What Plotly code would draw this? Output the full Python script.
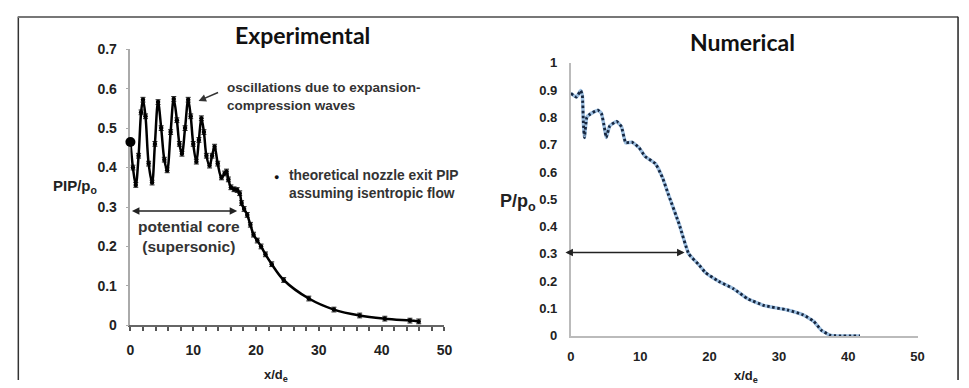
import plotly.graph_objects as go

W, H = 969, 388

# ---------------- data ----------------
exp_x = [0, 0.4, 0.85, 1.3, 1.7, 2.0, 2.4, 2.9, 3.45, 3.9, 4.4, 4.9, 5.4, 5.85, 6.4, 6.9,
         7.4, 7.8, 8.2, 8.7, 9.2, 9.6, 10.0, 10.5, 10.9, 11.3, 11.7, 12.1, 12.6, 13.0, 13.4,
         13.9, 14.5, 15.0, 15.3, 15.6, 16.0, 16.5, 17.0, 17.4, 17.7, 18.1, 18.6, 19.1, 19.6,
         20.2, 20.8, 21.5, 22.5, 24.4, 28.4, 32.4, 36.5, 40.5, 44.5, 45.9]
exp_y = [0.465, 0.40, 0.356, 0.43, 0.54, 0.572, 0.53, 0.41, 0.362, 0.46, 0.566, 0.50, 0.42,
         0.393, 0.49, 0.574, 0.52, 0.46, 0.435, 0.50, 0.572, 0.53, 0.46, 0.415, 0.47, 0.525,
         0.49, 0.43, 0.405, 0.43, 0.453, 0.41, 0.375, 0.385, 0.39, 0.37, 0.35, 0.345, 0.343,
         0.335, 0.31, 0.295, 0.28, 0.255, 0.23, 0.215, 0.2, 0.18, 0.155, 0.115, 0.068, 0.04,
         0.025, 0.017, 0.012, 0.01]
theory_x = [0]
theory_y = [0.465]

num_x = [0, 0.8, 1.4, 1.65, 1.8, 1.95, 2.3, 2.8, 3.9, 4.4, 4.85, 5.1, 5.6, 6.6, 7.3, 7.9,
         8.8, 9.8, 10.7, 12.2, 13.2, 14.1, 15.6, 17.0, 18.4, 19.4, 21.3, 23.5, 25.5, 27.9,
         31.2, 33.5, 35.0, 36.2, 37.5, 41.7]
num_y = [0.888, 0.874, 0.898, 0.88, 0.78, 0.726, 0.80, 0.812, 0.826, 0.814, 0.76, 0.726,
         0.768, 0.785, 0.765, 0.707, 0.709, 0.69, 0.657, 0.63, 0.58, 0.515, 0.41, 0.30,
         0.262, 0.232, 0.20, 0.172, 0.136, 0.111, 0.095, 0.077, 0.054, 0.019, 0.002, 0.0]

exp_xticks = [0, 10, 20, 30, 40, 50]
exp_xlabels = ["0", "10", "20", "30", "40", "50"]
exp_yticks = [0, 0.1, 0.2, 0.3, 0.4, 0.5, 0.6, 0.7]
exp_ylabels = ["0", "0.1", "0.2", "0.3", "0.4", "0.5", "0.6", "0.7"]
num_xticks = [0, 10, 20, 30, 40, 50]
num_xlabels = ["0", "10", "20", "30", "40", "50"]
num_yticks = [0, 0.1, 0.2, 0.3, 0.4, 0.5, 0.6, 0.7, 0.8, 0.9, 1]
num_ylabels = ["0", "0.1", "0.2", "0.3", "0.4", "0.5", "0.6", "0.7", "0.8", "0.9", "1"]

FONT = "Liberation Sans"
TFONT = "Lato"


def px(x):
    return x / W


def py(y):
    return 1 - y / H


def bold(labels):
    return ["<b>%s</b>" % t for t in labels]


fig = go.Figure()

# Experimental curve
fig.add_trace(go.Scatter(
    x=exp_x, y=exp_y, mode="lines+markers",
    line=dict(color="black", width=2.5, shape="spline", smoothing=1.0),
    marker=dict(color="black", size=4.5),
    error_y=dict(type="constant", value=0.006, width=2.5, thickness=1, color="#222"),
    xaxis="x", yaxis="y", showlegend=False, hoverinfo="skip", cliponaxis=False))
fig.add_trace(go.Scatter(
    x=theory_x, y=theory_y, mode="markers",
    marker=dict(color="black", size=10),
    xaxis="x", yaxis="y", showlegend=False, hoverinfo="skip", cliponaxis=False))

# Numerical curve: light blue line with dark dots on top
fig.add_trace(go.Scatter(
    x=num_x, y=num_y, mode="lines",
    line=dict(color="#9dbfe0", width=3.5, shape="spline", smoothing=0.4),
    xaxis="x2", yaxis="y2", showlegend=False, hoverinfo="skip"))
fig.add_trace(go.Scatter(
    x=num_x, y=num_y, mode="lines",
    line=dict(color="#16263f", width=2.8, shape="spline", smoothing=0.4, dash="2.5px,2.5px"),
    xaxis="x2", yaxis="y2", showlegend=False, hoverinfo="skip"))

tickfont_l = dict(family=FONT, size=14, color="#222")
tickfont_r = dict(family=FONT, size=13, color="#222")

fig.update_layout(
    width=W, height=H,
    margin=dict(l=0, r=0, t=0, b=0),
    paper_bgcolor="white", plot_bgcolor="white",
    xaxis=dict(domain=[px(128), px(446)], range=[0, 50], tickvals=exp_xticks,
               ticktext=bold(exp_xlabels),
               showgrid=False, zeroline=False, showline=True, linecolor="#666", linewidth=1.5,
               ticks="outside", ticklen=4, tickcolor="#555", tickwidth=1.5,
               minor=dict(dtick=2, ticks="outside", ticklen=4, tickcolor="#555", tickwidth=1.5),
               tickfont=tickfont_l, ticklabelstandoff=7, anchor="y", fixedrange=True,
               layer="below traces"),
    yaxis=dict(domain=[py(331), py(43)], range=[0, 0.7], tickvals=exp_yticks,
               ticktext=bold(exp_ylabels),
               showgrid=False, zeroline=False, showline=True, linecolor="#aaa", linewidth=1.5,
               ticks="outside", ticklen=3, tickcolor="#aaa",
               tickfont=tickfont_l, ticklabelstandoff=6, anchor="x", fixedrange=True,
               layer="below traces"),
    xaxis2=dict(domain=[px(574), px(925)], range=[0, 50], tickvals=num_xticks,
                ticktext=bold(num_xlabels),
                showgrid=False, zeroline=False, showline=True, linecolor="#bbb", linewidth=2,
                ticks="", tickfont=tickfont_r, ticklabelstandoff=8, anchor="y2", fixedrange=True,
                layer="below traces"),
    yaxis2=dict(domain=[py(342), py(57)], range=[0, 1], tickvals=num_yticks,
                ticktext=bold(num_ylabels),
                showgrid=False, zeroline=False, showline=True, linecolor="#bbb", linewidth=2,
                ticks="", tickfont=tickfont_r, ticklabelstandoff=9, anchor="x2", fixedrange=True,
                layer="below traces"),
)


def note(text, x, y, size, family=FONT, color="#222", xanchor="center", align="center"):
    return dict(text=text, x=px(x), y=py(y), xref="paper", yref="paper",
                xanchor=xanchor, yanchor="middle", align=align, showarrow=False,
                font=dict(family=family, size=size, color=color))


ann = []
# titles
ann.append(note("<b>Experimental</b>", 302, 28, 23, TFONT, "#111"))
ann.append(note("<b>Numerical</b>", 748, 35, 23, TFONT, "#111"))
# axis titles
ann.append(note("<b>PIP/p<sub>o</sub></b>", 72, 186, 15))
ann.append(note("<b>P/p<sub>o</sub></b>", 520, 203, 18))
ann.append(note("<b>x/d<sub>e</sub></b>", 275, 383, 13))
ann.append(note("<b>x/d<sub>e</sub></b>", 751, 384, 13))
# text notes
ann.append(note("<b>oscillations due to expansion-<br>compression waves</b>", 224, 92, 13.5,
                color="#333", xanchor="left", align="left"))
ann.append(note("<b>theoretical nozzle exit PIP<br>assuming isentropic flow</b>", 287, 184, 13.8,
                color="#333", xanchor="left", align="left"))
ann.append(note("●", 276, 176, 9, color="#111"))
ann.append(note("<b>potential core<br>(supersonic)</b>", 187, 238, 15.5, color="#333"))
# arrows
ann.append(dict(x=10.85, y=0.569, xref="x", yref="y", ax=21, ay=-9, text="",
                showarrow=True, arrowhead=2, arrowsize=1, arrowwidth=1.5, arrowcolor="#333"))
ann.append(dict(x=17, y=0.29, ax=0, ay=0.29, xref="x", yref="y", axref="x", ayref="y",
                text="", showarrow=True, arrowhead=2, startarrowhead=2, arrowside="end+start",
                arrowsize=1, arrowwidth=1.5, arrowcolor="#222"))
ann.append(dict(x=16.4, y=0.305, ax=-1.0, ay=0.305, xref="x2", yref="y2", axref="x2", ayref="y2",
                text="", showarrow=True, arrowhead=2, startarrowhead=2, arrowside="end+start",
                arrowsize=1, arrowwidth=1.5, arrowcolor="#222"))
fig.update_layout(annotations=ann)

# outer frame (open at bottom)
shapes = [
    dict(type="line", xref="paper", yref="paper", x0=px(14.5), x1=px(14.5), y0=py(9), y1=0,
         line=dict(color="#333", width=1.5)),
    dict(type="line", xref="paper", yref="paper", x0=px(14), x1=px(966), y0=py(9.5), y1=py(9.5),
         line=dict(color="#777", width=2)),
    dict(type="line", xref="paper", yref="paper", x0=px(966), x1=px(966), y0=py(9), y1=0,
         line=dict(color="#222", width=1.5)),
]
fig.update_layout(shapes=shapes)

fig.write_html("out.html")
